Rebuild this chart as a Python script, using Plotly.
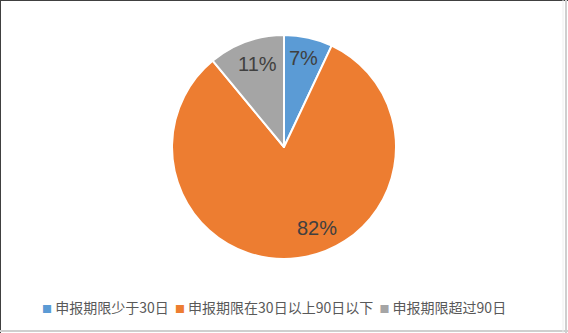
import math
import plotly.graph_objects as go

# Share of filings by declaration period
categories = ["申报期限少于30日", "申报期限在30日以上90日以下", "申报期限超过90日"]
shares = [7, 82, 11]
colors = ["#5B9BD5", "#ED7D31", "#A5A5A5"]

# label placement: radial fraction and angular nudge (degrees) per slice
label_radius = [0.81, 0.78, 0.78]
label_nudge = [-0.5, -15.0, 2.4]

W, H = 568, 333
pie_top, pie_bottom = 35, 259           # pixel extent of the pie domain
cx_px = W / 2
cy_px = (pie_top + pie_bottom) / 2
R = (pie_bottom - pie_top) / 2

fig = go.Figure(
    go.Pie(
        labels=categories,
        values=shares,
        sort=False,
        direction="clockwise",
        rotation=0,
        marker=dict(colors=colors, line=dict(color="white", width=2)),
        textinfo="none",
        hoverinfo="label+percent",
        showlegend=False,
        domain=dict(x=[0, 1], y=[1 - pie_bottom / H, 1 - pie_top / H]),
    )
)

# percentage labels placed along each slice's bisector
annotations = []
total = sum(shares)
start = 0.0
for v, f, nudge in zip(shares, label_radius, label_nudge):
    span = 360.0 * v / total
    ang = math.radians(start + span / 2 + nudge)
    start += span
    x_px = cx_px + f * R * math.sin(ang)
    y_px = cy_px - f * R * math.cos(ang)
    annotations.append(dict(
        x=x_px / W, y=1 - y_px / H, xref="paper", yref="paper",
        text=f"{v}%", showarrow=False, xanchor="center", yanchor="middle",
        font=dict(family="Liberation Sans, Arial", size=20, color="#404040"),
    ))

# legend row along the bottom
legend_parts = []
for name, c in zip(categories, colors):
    legend_parts.append(
        f'<span style="color:{c};font-size:10px">■</span> {name}'
    )
annotations.append(dict(
    x=40 / W, y=1 - 307 / H, xref="paper", yref="paper",
    text="  ".join(legend_parts), showarrow=False,
    xanchor="left", yanchor="middle",
    font=dict(family="Noto Sans CJK SC", size=14, color="#595959"),
))

dark = dict(color="#404040", width=1)
light = dict(color="#CFCFCF", width=2)
fig.update_layout(
    width=W, height=H,
    margin=dict(l=0, r=0, t=0, b=0),
    paper_bgcolor="white", plot_bgcolor="white",
    annotations=annotations,
    shapes=[
        # frame: dark top/left edges, light right/bottom edges
        dict(type="line", xref="paper", yref="paper",
             x0=0, y0=1 - 0.5 / H, x1=1, y1=1 - 0.5 / H, line=dark),
        dict(type="line", xref="paper", yref="paper",
             x0=0.5 / W, y0=0, x1=0.5 / W, y1=1, line=dark),
        dict(type="line", xref="paper", yref="paper",
             x0=1 - 2 / W, y0=0, x1=1 - 2 / W, y1=1, line=light),
        dict(type="line", xref="paper", yref="paper",
             x0=0, y0=2 / H, x1=1, y1=2 / H, line=light),
        dict(type="line", xref="paper", yref="paper",
             x0=1 - 5 / W, y0=0, x1=1 - 5 / W, y1=1,
             line=dict(color="#EEEEEE", width=1)),
    ],
)

fig.write_html("out.html")
